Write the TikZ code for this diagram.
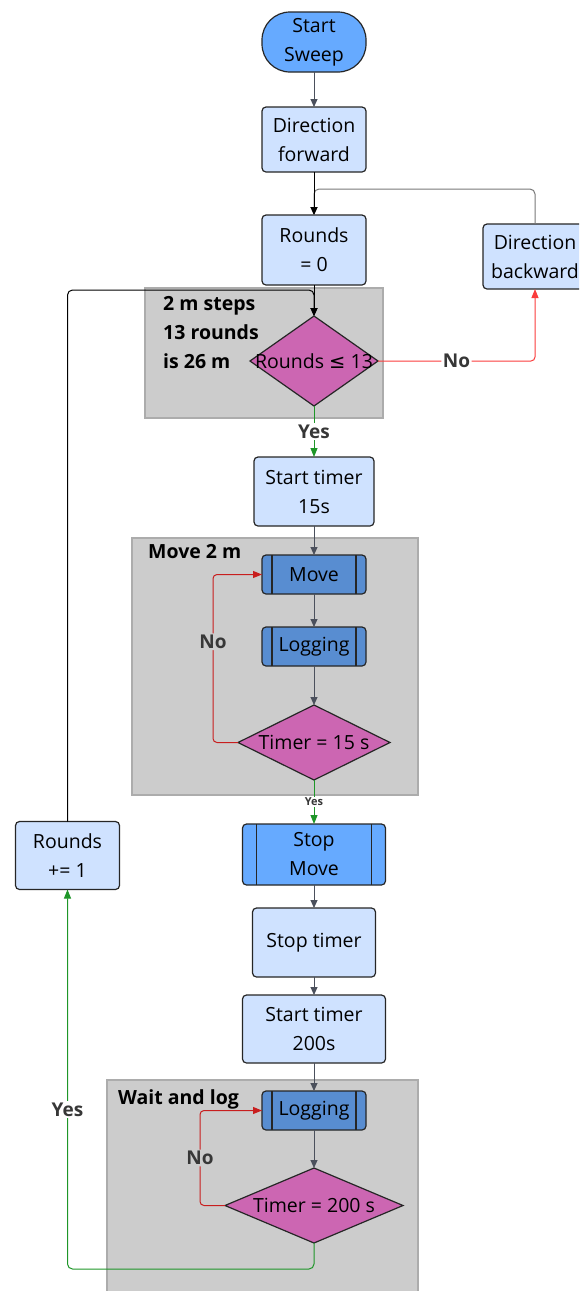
\documentclass[tikz,border=0pt]{standalone}
\usepackage{fontspec}
\setmainfont{Open Sans}
\newfontfamily\symfont{DejaVu Sans}
\usetikzlibrary{shapes,arrows.meta,positioning,calc}
\definecolor{startblue}{RGB}{102,170,255}
\definecolor{procblue}{RGB}{207,226,255}
\definecolor{subblue}{RGB}{88,141,209}
\definecolor{decpink}{RGB}{204,102,178}
\definecolor{groupgray}{RGB}{204,204,204}
\definecolor{groupedge}{RGB}{172,172,172}
\definecolor{linegray}{RGB}{75,80,92}
\definecolor{backgray}{RGB}{120,120,120}
\definecolor{nored}{RGB}{250,60,60}
\definecolor{loopred}{RGB}{200,30,30}
\definecolor{yesgreen}{RGB}{30,150,40}
\definecolor{labelgray}{RGB}{55,55,55}

\begin{document}
\begin{tikzpicture}[
    x=1pt, y=1pt,
    node distance=30pt,
    every node/.style={font=\fontsize{19.5}{29}\selectfont},
    base/.style={rectangle, draw=black!85, line width=1.2pt, rounded corners=4pt, align=center, inner sep=0pt, outer sep=0pt},
    startnode/.style={base, fill=startblue, minimum width=104pt, minimum height=60pt, rounded corners=28pt},
    proc/.style={base, fill=procblue, minimum width=104pt, minimum height=66pt},
    subr/.style={base, fill=subblue, minimum width=104pt, minimum height=39pt,
        path picture={
            \draw[line width=1.2pt, black!85] ([xshift=#1]path picture bounding box.north west) -- ([xshift=#1]path picture bounding box.south west);
            \draw[line width=1.2pt, black!85] ([xshift=-#1]path picture bounding box.north east) -- ([xshift=-#1]path picture bounding box.south east);
        }},
    subr/.default=10pt,
    decision/.style={diamond, draw=black!85, line width=1.2pt, fill=decpink, inner sep=0pt, outer sep=0pt},
    group/.style={draw=groupedge, line width=2pt, fill=groupgray},
    grouplabel/.style={font=\bfseries\fontsize{19.5}{29}\selectfont, align=left, inner sep=0pt},
    lbl/.style={font=\bfseries\fontsize{19}{22}\selectfont, text=labelgray, fill=white, inner sep=1.5pt},
    smalllbl/.style={font=\bfseries\fontsize{11}{13}\selectfont, text=labelgray, fill=white, inner sep=1pt},
    arrow/.style={-{Triangle[length=8pt,width=7pt]}, line width=1pt, color=linegray},
    backline/.style={-{Triangle[length=8pt,width=7pt]}, line width=1pt, color=backgray, rounded corners=5pt},
    noarrow/.style={-{Triangle[length=9pt,width=7pt]}, line width=1pt, color=nored, rounded corners=4pt},
    noloop/.style={-{Triangle[length=9pt,width=7pt]}, line width=1pt, color=loopred, rounded corners=4pt},
    yesarrow/.style={-{Triangle[length=9pt,width=7pt]}, line width=1pt, color=yesgreen, rounded corners=5pt}
]
\useasboundingbox (0,0) rectangle (579,-1291);
\clip (0,0) rectangle (579,-1291);

% Group boxes
\draw[group] (145,-288) rectangle (383,-418);
\draw[group] (132,-538) rectangle (418,-795);
\draw[group] (107,-1080) rectangle (418,-1310);
\node[grouplabel, anchor=north west] (note1) at (163,-296) {2 m steps\\13 rounds\\is 26 m};
\node[grouplabel, anchor=west] (note2) at (148,-552) {Move 2 m};
\node[grouplabel, anchor=west] (note3) at (118,-1099) {Wait and log};

% Start and setup
\node[startnode] (start) at (314,-42) {Start\\Sweep};
\node[proc, below=35pt of start, minimum height=65pt] (dirf) {Direction\\forward};
\node[proc, below=43pt of dirf, minimum height=70pt] (rzero) {Rounds\\= 0};
\node[proc, right=117pt of rzero, yshift=-6.5pt, minimum height=65pt] (dirb) {Direction\\backward};

% Round check
\node[decision, below=31pt of rzero, minimum width=128pt, minimum height=90pt] (chkrounds) {\makebox[0pt]{Rounds {\symfont ≤} 13}};

% Move loop
\node[proc, below=51pt of chkrounds, minimum width=120pt, minimum height=69pt] (tstart1) {Start timer\\15s};
\node[subr, below=29pt of tstart1] (move) {Move};
\node[subr, below=33pt of move] (log1) {Logging};
\node[decision, below=39pt of log1, minimum width=152pt, minimum height=75pt] (chkt1) {\makebox[0pt]{Timer = 15 s}};

% Stop and wait
\node[subr=14pt, fill=startblue, below=44pt of chkt1, minimum width=143pt, minimum height=61pt] (stopmove) {Stop\\Move};
\node[proc, below=23pt of stopmove, minimum width=123pt, minimum height=69pt] (tstop) {Stop timer};
\node[proc, below=18pt of tstop, minimum width=143pt, minimum height=68pt] (tstart2) {Start timer\\200s};
\node[subr, below=28pt of tstart2] (log2) {Logging};
\node[decision, below=38pt of log2, minimum width=178pt, minimum height=75pt] (chkt2) {\makebox[0pt]{Timer = 200 s}};

% Counter
\node[proc, left=123pt of stopmove, yshift=-1pt, minimum height=68pt] (rinc) {Rounds\\+= 1};

% Junctions
\coordinate (jtop) at ($(dirf.south)+(0,-17)$);
\coordinate (jloop) at ($(rzero.south)+(0,-5)$);
\coordinate (jbot) at ($(chkt2.south)+(0,-26)$);

% Connections at the top
\draw[arrow] (start) -- (dirf);
\draw[backline] (dirb.north) |- (jtop) -- (rzero.north);
\draw[arrow, color=black] (dirf) -- (rzero);
\draw[arrow, color=black] (rzero) -- (chkrounds);
\draw[arrow, color=black, rounded corners=5pt] (rinc.north) |- (jloop) -- (chkrounds.north);
\draw[noarrow] (chkrounds.east) -| node[lbl, pos=0.25] {No} (dirb.south);
\draw[yesarrow] (chkrounds) -- node[lbl] {Yes} (tstart1);

% Move loop connections
\draw[arrow] (tstart1) -- (move);
\draw[arrow] (move) -- (log1);
\draw[arrow] (log1) -- (chkt1);
\draw[noloop] (chkt1.west) -- ++(-25,0) |- node[lbl, fill=groupgray, pos=0.3] {No} (move.west);
\draw[yesarrow] (chkt1) -- node[smalllbl] {Yes} (stopmove);

% Wait loop connections
\draw[arrow] (stopmove) -- (tstop);
\draw[arrow] (tstop) -- (tstart2);
\draw[arrow] (tstart2) -- (log2);
\draw[arrow] (log2) -- (chkt2);
\draw[noloop] (chkt2.west) -- ++(-25,0) |- node[lbl, fill=groupgray, pos=0.25] {No} (log2.west);
\draw[yesarrow] (chkt2.south) -- (jbot) -| node[lbl, pos=0.71] {Yes} (rinc.south);

\end{tikzpicture}
\end{document}
